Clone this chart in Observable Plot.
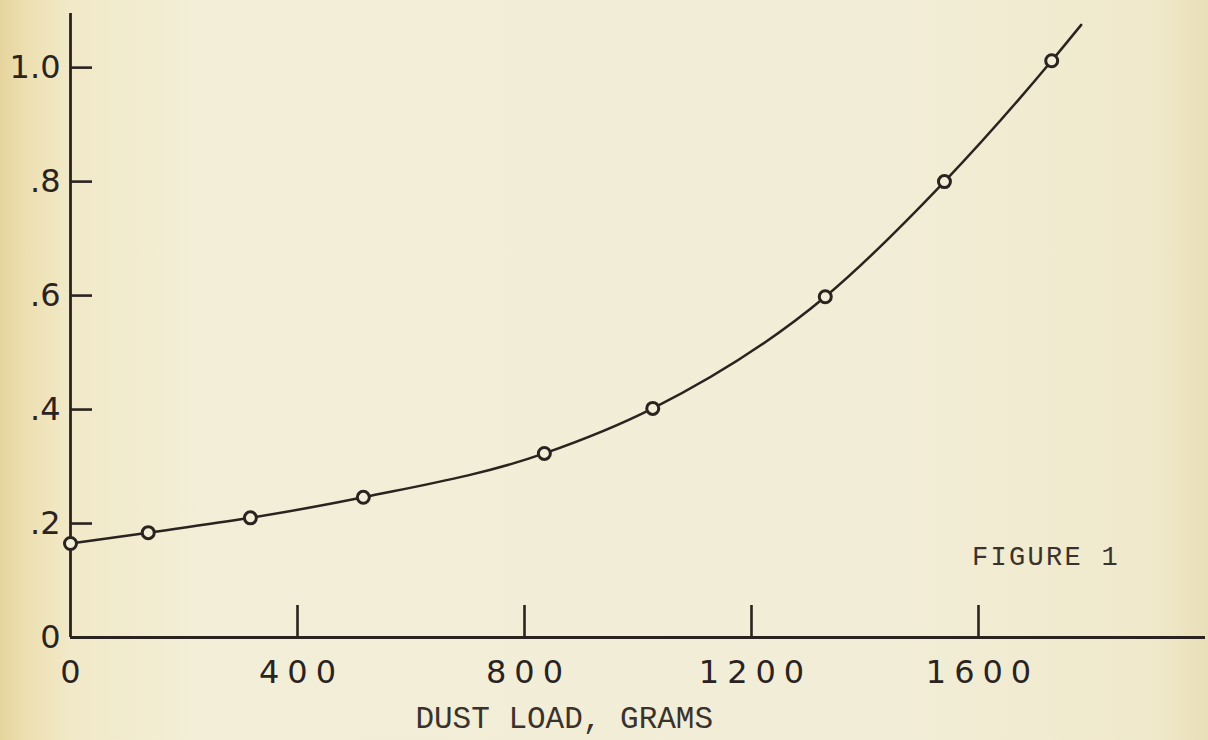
<!DOCTYPE html>
<html>
<head>
<meta charset="utf-8">
<script src="https://cdn.jsdelivr.net/npm/d3@7"></script>
<script src="https://cdn.jsdelivr.net/npm/@observablehq/plot@0.6"></script>
<style>
  html, body { margin: 0; padding: 0; }
  body {
    width: 1208px; height: 740px; overflow: hidden; position: relative;
    background: linear-gradient(to right, #e6d49c 0px, #eddfb0 25px, #f1e9c8 70px, #f3eed7 200px, #f2edd6 900px, #f0e9cc 1150px, #e9dfb8 1208px);
  }
  #chart { position: absolute; left: 0; top: 0; }
  .fig { position: absolute; left: 972px; top: 543px; font-family: "Liberation Mono", monospace; font-size: 27px; letter-spacing: 2.3px; color: #3a322c; }
</style>
</head>
<body>
<div id="chart"></div>
<div class="fig">FIGURE 1</div>
<script>
// Data
const dustLoad = [0, 137, 317, 516, 835, 1026, 1330, 1540, 1729];
const resistance = [0.165, 0.184, 0.21, 0.246, 0.323, 0.402, 0.598, 0.80, 1.012];
// the drawn smooth curve continues past the last point
const curveLoad = [...dustLoad, 1781];
const curveValue = [...resistance, 1.075];
const xTickValues = [0, 400, 800, 1200, 1600];
const xTickLabels = ["0", "400", "800", "1200", "1600"];
const yTickValues = [0, 0.2, 0.4, 0.6, 0.8, 1.0];
const yTickLabels = ["0", ".2", ".4", ".6", ".8", "1.0"];
const xLabel = "DUST LOAD, GRAMS";

const points = dustLoad.map((x, i) => ({x, y: resistance[i]}));
const curve = curveLoad.map((x, i) => ({x, y: curveValue[i]}));

const W = 1208, H = 740;
const mL = 70, mR = 3, mT = 13, mB = 103;
const ink = "#2a231f";

const chart = Plot.plot({
  width: W, height: H,
  marginLeft: mL, marginRight: mR, marginTop: mT, marginBottom: mB,
  style: {background: "transparent", color: ink, overflow: "visible"},
  x: {domain: [0, 2000]},
  y: {domain: [0, 1.095]},
  marks: [
    // axis lines
    Plot.ruleX([0], {stroke: ink, strokeWidth: 2.8}),
    Plot.ruleY([0], {stroke: ink, strokeWidth: 2.8}),
    // inward ticks
    Plot.ruleX(xTickValues.slice(1), {stroke: ink, strokeWidth: 2.6, insetTop: (H - mT - mB) - 32}),
    Plot.ruleY(yTickValues.slice(1), {stroke: ink, strokeWidth: 2.6, insetRight: (W - mL - mR) - 22}),
    // tick labels
    Plot.axisX({ticks: xTickValues, tickSize: 0, tickPadding: 23, dx: 4, tickFormat: (d) => xTickLabels[xTickValues.indexOf(d)],
      fontSize: 32, fontFamily: "DejaVu Sans", fill: ink, label: null}),
    Plot.axisY({ticks: yTickValues, tickSize: 0, tickPadding: 10, tickFormat: (d) => yTickLabels[yTickValues.indexOf(d)],
      fontSize: 32, fontFamily: "DejaVu Sans", fill: ink, label: null}),
    // curve and points
    Plot.line(curve, {x: "x", y: "y", curve: "monotone-x", stroke: ink, strokeWidth: 2.5}),
    Plot.dot(points, {x: "x", y: "y", r: 6, stroke: ink, strokeWidth: 3, fill: "#f3eed7"}),
    // axis title
    Plot.text([xLabel], {frameAnchor: "bottom", x: 870, dy: 81, lineAnchor: "middle", text: (d) => d, fontSize: 31,
      fontFamily: "Liberation Mono", fill: "#3a322c", textAnchor: "middle"})
  ]
});
// letter spacing for x tick labels
chart.querySelectorAll('[aria-label="x-axis tick label"] text').forEach(t => t.setAttribute("letter-spacing", "8"));
document.getElementById("chart").appendChild(chart);
</script>
</body>
</html>
